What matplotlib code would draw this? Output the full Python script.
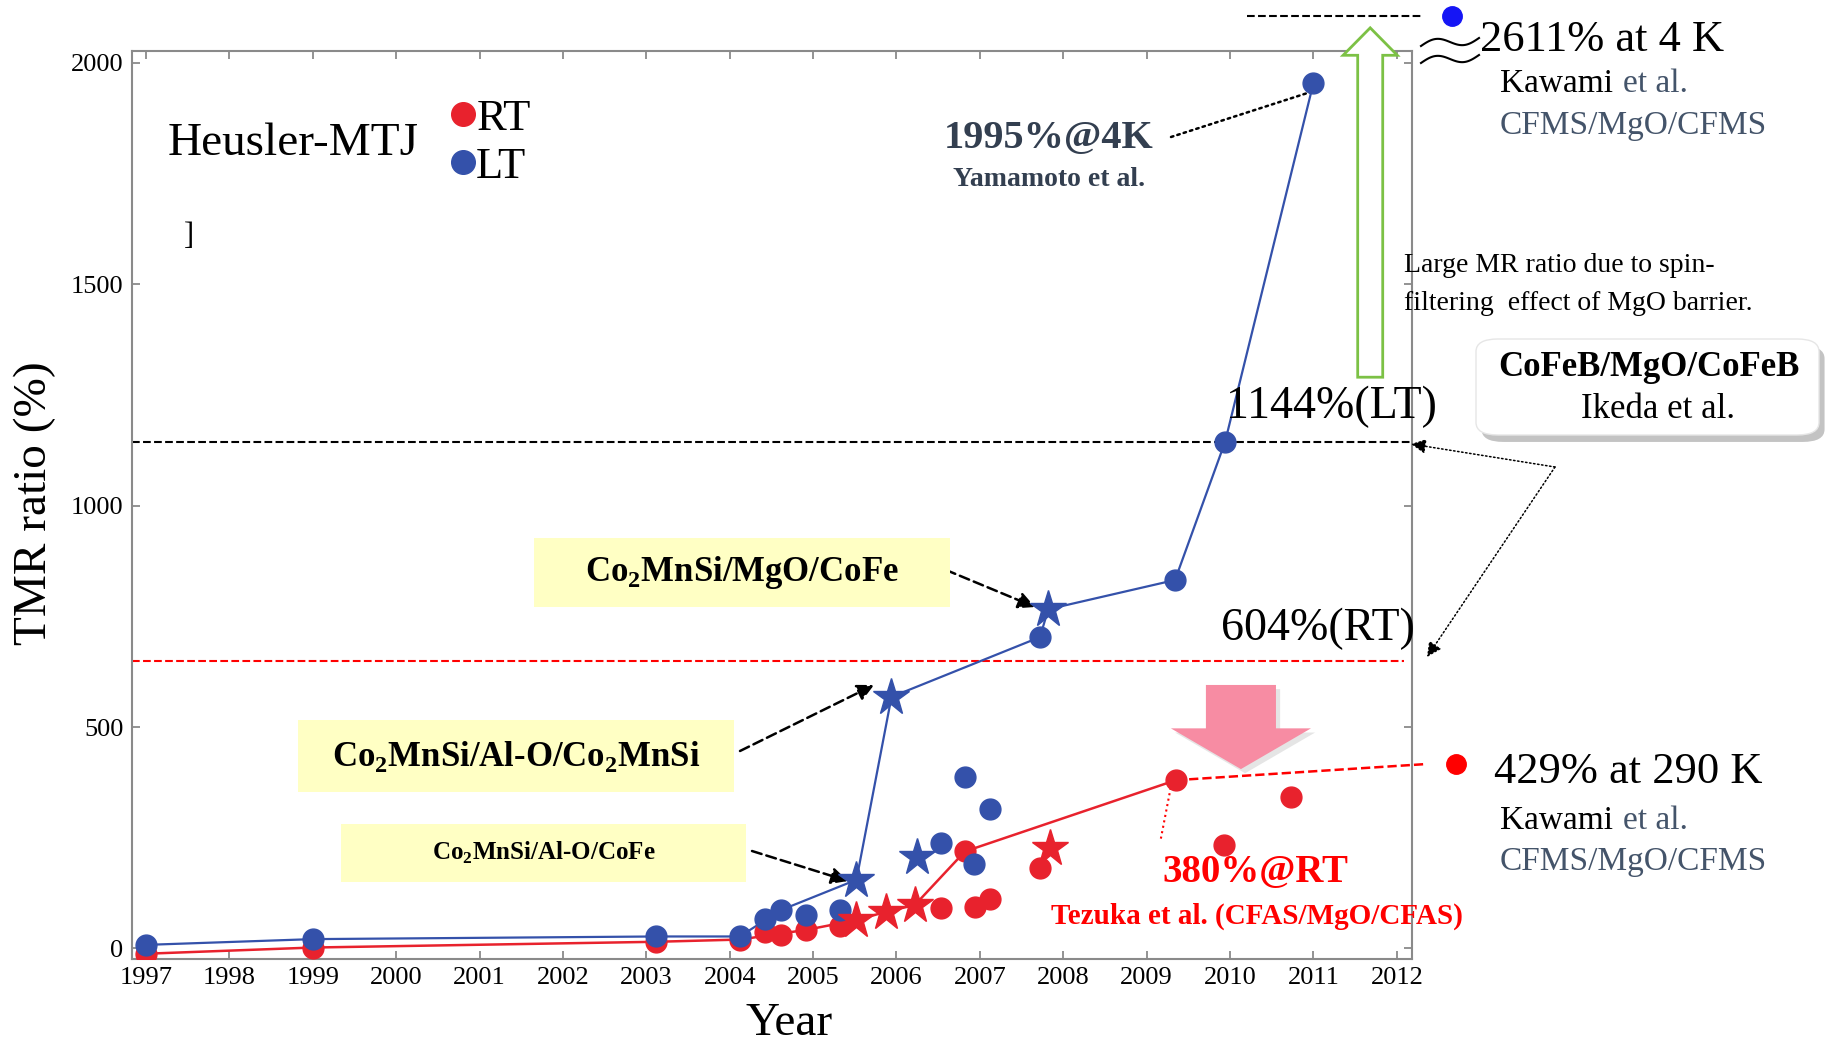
import numpy as np
import matplotlib
matplotlib.use('Agg')
import matplotlib.pyplot as plt
from matplotlib.patches import FancyBboxPatch, FancyArrow, Rectangle
from matplotlib.lines import Line2D
import matplotlib.patheffects as pe

plt.rcParams['font.family'] = ['Liberation Serif', 'DejaVu Serif']
plt.rcParams['mathtext.fontset'] = 'custom'
plt.rcParams['mathtext.rm'] = 'Liberation Serif'
plt.rcParams['mathtext.bf'] = 'Liberation Serif:bold'

# LT (low temperature) data
lt_circ_year = [1997, 1999, 2003.12, 2004.12, 2004.42, 2004.62, 2004.92, 2005.32,
                2006.53, 2006.82, 2006.93, 2007.12, 2007.72, 2009.34, 2009.94, 2011.0]
lt_circ_tmr = [8, 21, 27, 27, 67, 87, 76, 87, 238, 388, 191, 314, 703, 832, 1144, 1955]
lt_star_year = [2005.52, 2005.94, 2006.24, 2007.82]
lt_star_tmr = [155, 568, 207, 766]
lt_line_year = [1997, 1999, 2003.12, 2004.12, 2004.62, 2005.52, 2005.94, 2007.72,
                2007.82, 2009.34, 2009.94, 2011.0]
lt_line_tmr = [8, 21, 27, 27, 87, 155, 568, 703, 766, 832, 1144, 1955]

# RT (room temperature) data
rt_circ_year = [1997, 1999, 2003.12, 2004.12, 2004.42, 2004.62, 2004.92, 2005.32,
                2006.53, 2006.82, 2006.94, 2007.12, 2007.72, 2009.35, 2009.93, 2010.73]
rt_circ_tmr = [-12, 2, 15, 20, 36, 30, 42, 51, 91, 219, 94, 111, 182, 380, 234, 342]
rt_star_year = [2005.52, 2005.88, 2006.22, 2007.84]
rt_star_tmr = [64, 83, 98, 226]
rt_line_year = [1997, 1999, 2003.12, 2004.12, 2004.92, 2005.52, 2005.88, 2006.22,
                2006.82, 2009.35]
rt_line_tmr = [-12, 2, 15, 20, 42, 64, 83, 98, 219, 380]

# reference levels (CoFeB/MgO/CoFeB) and out-of-range points (broken axis)
cofeb_lt = 1144
cofeb_rt = 648
kawami_lt = (2012.66, 2105)
kawami_rt = (2012.71, 416)

year_ticks = list(range(1997, 2013))
tmr_ticks = [0, 500, 1000, 1500, 2000]

BLUE = '#3451AA'
RED = '#E8222D'
SLATE = '#333F50'
GRAY_BLUE = '#44546A'
YELLOW = '#FFFFC4'

W, H = 1827, 1047


def fp(x, y):
    # pixel position -> figure fraction
    return x / W, 1 - y / H


def kawami_block(x, y1, y2):
    t1 = fig.text(*fp(x, y1), 'Kawami', fontsize=24, ha='left', va='center')
    ax.annotate('et al.', xy=(1, 0.5), xycoords=t1, xytext=(7, 0),
                textcoords='offset points', fontsize=24, color=GRAY_BLUE,
                ha='left', va='center', annotation_clip=False)
    fig.text(*fp(x, y2), 'CFMS/MgO/CFMS', fontsize=24, color=GRAY_BLUE, ha='left',
             va='center')


fig = plt.figure(figsize=(18.27, 10.47), dpi=100)
ax = fig.add_axes([0.0721, 0.084, 0.7007, 0.867])

ax.plot(rt_line_year, rt_line_tmr, color=RED, lw=1.8, zorder=2)
ax.plot(lt_line_year, lt_line_tmr, color=BLUE, lw=1.6, zorder=2)
ax.plot(rt_circ_year, rt_circ_tmr, 'o', color=RED, ms=15, zorder=3)
ax.plot(lt_circ_year, lt_circ_tmr, 'o', color=BLUE, ms=15, zorder=4)
ax.plot(rt_star_year, rt_star_tmr, '*', color=RED, ms=28, zorder=5)
ax.plot(lt_star_year, lt_star_tmr, '*', color=BLUE, ms=28, zorder=5)

ax.axhline(cofeb_lt, color='k', ls='--', lw=1.5, zorder=1)
ax.plot([1996.83, 2012.08], [cofeb_rt, cofeb_rt], color='red', ls='--', lw=1.5, zorder=1)

# Kawami points outside the frame
ax.plot([2010.2, 2012.29], [kawami_lt[1]] * 2, 'k--', lw=1.5, clip_on=False)
ax.plot(*kawami_lt, 'o', color='#1515F5', ms=14, clip_on=False)
ax.plot([rt_line_year[-1], 2012.32], [rt_line_tmr[-1], kawami_rt[1]], color='red',
        ls='--', lw=1.8, clip_on=False)
ax.plot(*kawami_rt, 'o', color='#FF0000', ms=14, clip_on=False)
ax.plot([2009.3, 2009.17], [375, 248], color='red', ls=':', lw=1.5)

ax.set_xlim(1996.83, 2012.18)
ax.set_ylim(-24, 2026)
ax.set_xticks(year_ticks)
ax.set_yticks(tmr_ticks)
ax.tick_params(direction='in', length=6, width=1.2, color='#808080', top=True, right=True,
               labelsize=19, pad=6)
for s in ax.spines.values():
    s.set_color('#8a8a8a')
    s.set_linewidth(1.5)

fig.text(*fp(35, 503), 'TMR ratio (%)', rotation=90, fontsize=34, ha='center', va='center')
fig.text(*fp(789, 1024), 'Year', fontsize=34, ha='center', va='center')

# legend
handles = [Line2D([], [], marker='o', ls='none', color=RED, ms=17),
           Line2D([], [], marker='o', ls='none', color=BLUE, ms=17)]
ax.legend(handles, ['RT', 'LT'], loc='upper left', bbox_to_anchor=(0.25, 0.948),
          frameon=False, fontsize=32, handlelength=0.5, handletextpad=0.05,
          labelspacing=0.18, borderpad=0, borderaxespad=0)
fig.text(*fp(293, 144), 'Heusler-MTJ', fontsize=34, ha='center', va='center')
fig.text(*fp(189, 236), ']', fontsize=22, ha='center', va='center')

# 1995% label
fig.text(*fp(1049, 138), '1995%@4K', fontsize=29, fontweight='bold', color=SLATE,
         ha='center', va='center')
fig.text(*fp(1049, 179), 'Yamamoto et al.', fontsize=20, fontweight='bold', color=SLATE,
         ha='center', va='center')
ax.annotate('', xy=(2010.98, 1935), xycoords='data', xytext=fp(1171, 137),
            textcoords='figure fraction',
            arrowprops=dict(arrowstyle='-', ls=':', lw=1.8, color='k', shrinkA=0, shrinkB=0))

# 2611% label with break mark
t = np.linspace(0, 1, 60)
for dy in (0, 17):
    xs = 1421 + 58 * t
    ys = 46 + dy - 8 * t - 5 * np.sin(2 * np.pi * t)
    fig.add_artist(Line2D(xs / W, 1 - ys / H, color='k', lw=1.5))
fig.text(*fp(1480, 40), '2611% at 4 K', fontsize=32, ha='left', va='center')
kawami_block(1500, 84, 126)

# green hollow arrow
ax.add_patch(FancyArrow(2011.68, 1290, 0, 789, width=0.30, head_width=0.65, head_length=62,
                        length_includes_head=True, fc='white', ec='#7CC145', lw=2,
                        clip_on=False, zorder=6))
fig.text(*fp(1404, 266), 'Large MR ratio due to spin-', fontsize=20, ha='left', va='center')
fig.text(*fp(1404, 303), 'filtering  effect of MgO barrier.', fontsize=20, ha='left',
         va='center')

# CoFeB box
box = FancyBboxPatch(fp(1476, 435), (1819 - 1476) / W, (435 - 339) / H,
                     boxstyle='round,pad=0,rounding_size=0.012', transform=fig.transFigure,
                     fc='white', ec='#e6e6e6', lw=1,
                     path_effects=[pe.SimplePatchShadow(offset=(4, -5), shadow_rgbFace='#888888',
                                                        alpha=0.5), pe.Normal()])
fig.add_artist(box)
fig.text(*fp(1649, 367), 'CoFeB/MgO/CoFeB', fontsize=25, fontweight='bold', ha='center',
         va='center')
fig.text(*fp(1658, 409), 'Ikeda et al.', fontsize=25, ha='center', va='center')
fig.text(*fp(1331, 407), '1144%(LT)', fontsize=33, ha='center', va='center')
fig.text(*fp(1318, 629), '604%(RT)', fontsize=33, ha='center', va='center')
for tip in [(1411, 444), (1427, 657)]:
    ax.annotate('', xy=fp(*tip), xycoords='figure fraction', xytext=fp(1555, 467),
                textcoords='figure fraction',
                arrowprops=dict(arrowstyle='-|>', ls=':', lw=1.1, color='k',
                                mutation_scale=22, shrinkA=0, shrinkB=0))

# yellow boxes with dashed arrows
boxes = [
    ((534, 538, 950, 607), r'Co$_\mathbf{2}$MnSi/MgO/CoFe', 25, (946, 570), (1035, 607)),
    ((298, 720, 734, 792), r'Co$_\mathbf{2}$MnSi/Al-O/Co$_\mathbf{2}$MnSi', 25, (740, 751),
     (874, 685)),
    ((341, 824, 746, 882), r'Co$_\mathbf{2}$MnSi/Al-O/CoFe', 18, (752, 851), (848, 881)),
]
for (x0, y0, x1, y1), label, fs, tail, tip in boxes:
    fig.add_artist(Rectangle(fp(x0, y1), (x1 - x0) / W, (y1 - y0) / H, fc=YELLOW, ec='none',
                             transform=fig.transFigure))
    fig.text(*fp((x0 + x1) / 2, (y0 + y1) / 2), label, fontsize=fs, fontweight='bold',
             ha='center', va='center')
    ax.annotate('', xy=fp(*tip), xycoords='figure fraction', xytext=fp(*tail),
                textcoords='figure fraction',
                arrowprops=dict(arrowstyle='-|>', ls=(0, (4, 2)), lw=1.8, color='k',
                                mutation_scale=25, shrinkA=0, shrinkB=0))

# pink down arrow
ax.add_patch(FancyArrow(2010.13, 595, 0, -190, width=0.84, head_width=1.68, head_length=92,
                        length_includes_head=True, fc='#F78CA3', ec='none', zorder=6,
                        path_effects=[pe.SimplePatchShadow(offset=(3, -3),
                                                           shadow_rgbFace='#aaaaaa', alpha=0.3),
                                      pe.Normal()]))

fig.text(*fp(1255, 873), '380%@RT', fontsize=28, fontweight='bold', color='#FF0000',
         ha='center', va='center')
fig.text(*fp(1257, 916), 'Tezuka et al. (CFAS/MgO/CFAS)', fontsize=21, fontweight='bold',
         color='#FF0000', ha='center', va='center')

fig.text(*fp(1494, 772), '429% at 290 K', fontsize=32, ha='left', va='center')
kawami_block(1500, 821, 862)

fig.savefig('out.png', dpi=100)
